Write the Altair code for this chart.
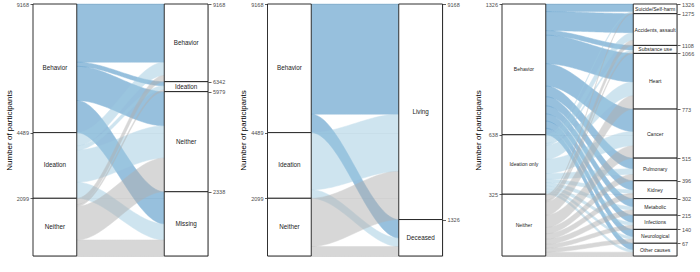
import altair as alt
import pandas as pd
import numpy as np

FONT = "Liberation Sans"
AXIS_TITLE = "Number of participants"

# Panel 1: Baseline -> Follow-up
P1_LEFT = ["Behavior", "Ideation", "Neither"]
P1_RIGHT = ["Behavior", "Ideation", "Neither", "Missing"]
P1_FROM_BEHAVIOR = [2118, 150, 1242, 1169]
P1_FROM_IDEATION = [481, 150, 1174, 585]
P1_FROM_NEITHER = [227, 63, 1225, 584]
P1_AXES = ["Baseline", "Follow-up"]

# Panel 2: Baseline -> Mortality
P2_LEFT = ["Behavior", "Ideation", "Neither"]
P2_RIGHT = ["Living", "Deceased"]
P2_FROM_BEHAVIOR = [4009, 670]
P2_FROM_IDEATION = [2080, 310]
P2_FROM_NEITHER = [1753, 346]
P2_AXES = ["Baseline", "Mortality"]

# Panel 3: C-SSRS (lifetime) -> Cause of death
P3_LEFT = ["Behavior", "Ideation only", "Neither"]
P3_RIGHT = ["Suicide/Self-harm", "Accidents, assault", "Substance use", "Heart",
            "Cancer", "Pulmonary", "Kidney", "Metabolic", "Infections",
            "Neurological", "Other causes"]
P3_FROM_BEHAVIOR = [40, 100, 24, 150, 118, 56, 48, 42, 38, 38, 34]
P3_FROM_IDEATION = [6, 40, 10, 73, 75, 30, 18, 18, 16, 14, 13]
P3_FROM_NEITHER = [5, 27, 8, 70, 65, 33, 28, 27, 21, 21, 20]
P3_AXES = ["C-SSRS (lifetime)", "Cause of death"]

GROUP_KEYS = ["behavior", "ideation", "neither"]
GROUP_COLORS = ["#3182bd", "#9ecae1", "#b0b0b0"]

N_PTS = 41


def panel(left, right, flows, axes, fs_left, fs_right):
    flows = np.array(flows, dtype=float)
    total = float(flows.sum())
    rows = flows.sum(1)
    cols = flows.sum(0)
    ltop = total - np.concatenate([[0], np.cumsum(rows)[:-1]])
    rtop = total - np.concatenate([[0], np.cumsum(cols)[:-1]])

    t = np.linspace(0, 1, N_PTS)
    s = t * t * (3 - 2 * t)
    recs = []
    for i in range(len(left)):
        loff = ltop[i]
        for j in range(len(right)):
            v = flows[i, j]
            l_hi = loff
            l_lo = loff - v
            loff -= v
            r_hi = rtop[j] - flows[:i, j].sum()
            r_lo = r_hi - v
            if v <= 0:
                continue
            for tt, ss in zip(t, s):
                recs.append(dict(fid=f"{i}-{j}", grp=GROUP_KEYS[i], x=1 + 2 * tt,
                                 lo=l_lo + (r_lo - l_lo) * ss,
                                 hi=l_hi + (r_hi - l_hi) * ss))
    fdf = pd.DataFrame(recs)

    lstr = pd.DataFrame(dict(x0=0.0, x1=1.0, lo=ltop - rows, hi=ltop, label=left,
                             xm=0.5, fs=fs_left))
    rstr = pd.DataFrame(dict(x0=3.0, x1=4.0, lo=rtop - cols, hi=rtop, label=right,
                             xm=3.5, fs=fs_right))
    for d in (lstr, rstr):
        d["ym"] = (d["lo"] + d["hi"]) / 2
    labels = pd.concat([lstr, rstr], ignore_index=True)

    xs = alt.Scale(domain=[0, 4], nice=False, zero=False)
    ys = alt.Scale(domain=[0, total], nice=False, zero=True)

    common_axis = dict(domain=False, tickColor="#333333", tickSize=3, tickWidth=0.8,
                       labelFontSize=5.5, labelColor="#4d4d4d", labelFont=FONT,
                       labelPadding=1.5, labelOverlap=False, labelFlush=False, format="d")
    left_axis = alt.Axis(values=[int(v) for v in ltop], orient="left", title=AXIS_TITLE,
                         grid=True, gridColor="#ebebeb", gridWidth=0.6,
                         titleFontSize=8, titleFontWeight="normal", titleColor="black",
                         titleFont=FONT, titlePadding=3, **common_axis)
    right_axis = alt.Axis(values=[int(v) for v in rtop], orient="right", title=None,
                          grid=False, **common_axis)
    x_axis = alt.Axis(values=[0.5, 3.5],
                      labelExpr=f"datum.value < 2 ? '{axes[0]}' : '{axes[1]}'",
                      title=None, grid=False, domain=False, tickColor="#666666",
                      tickSize=2.5, tickWidth=0.8, labelFontSize=6.3, labelColor="#4d4d4d",
                      labelFont=FONT, labelPadding=1.5)

    color_scale = alt.Scale(domain=GROUP_KEYS, range=GROUP_COLORS)
    flows_layer = alt.Chart(fdf).mark_area(opacity=0.5, strokeWidth=0.5).encode(
        x=alt.X("x:Q", scale=xs, axis=None),
        y=alt.Y("lo:Q", scale=ys, axis=None),
        y2="hi:Q",
        detail="fid:N",
        fill=alt.Fill("grp:N", scale=color_scale, legend=None),
        stroke=alt.Stroke("grp:N", scale=color_scale, legend=None),
    )
    rect_style = dict(fill="white", stroke="#1a1a1a", strokeWidth=0.9)
    left_layer = alt.Chart(lstr).mark_rect(**rect_style).encode(
        x=alt.X("x0:Q", scale=xs, axis=x_axis), x2="x1:Q",
        y=alt.Y("lo:Q", scale=ys, axis=left_axis), y2="hi:Q",
    )
    right_layer = alt.Chart(rstr).mark_rect(**rect_style).encode(
        x=alt.X("x0:Q", scale=xs, axis=None), x2="x1:Q",
        y=alt.Y("lo:Q", scale=ys, axis=right_axis), y2="hi:Q",
    )
    text_layer = alt.Chart(labels).mark_text(font=FONT, color="#1a1a1a").encode(
        x=alt.X("xm:Q", scale=xs, axis=None),
        y=alt.Y("ym:Q", scale=ys, axis=None),
        text="label:N",
        size=alt.Size("fs:Q", scale=None),
    )
    return alt.layer(flows_layer, left_layer, right_layer, text_layer).resolve_scale(
        y="independent").properties(width=175, height=252)


p1 = panel(P1_LEFT, P1_RIGHT, [P1_FROM_BEHAVIOR, P1_FROM_IDEATION, P1_FROM_NEITHER],
           P1_AXES, 6.3, 6.3)
p2 = panel(P2_LEFT, P2_RIGHT, [P2_FROM_BEHAVIOR, P2_FROM_IDEATION, P2_FROM_NEITHER],
           P2_AXES, 6.3, 6.3)
p3 = panel(P3_LEFT, P3_RIGHT, [P3_FROM_BEHAVIOR, P3_FROM_IDEATION, P3_FROM_NEITHER],
           P3_AXES, 5.1, 5.1)

chart = alt.hconcat(p1, p2, p3, spacing=59.5, bounds="flush").properties(
    padding={"left": 4, "top": 1, "right": 0, "bottom": 0}
).configure_view(stroke="#9a9a9a", strokeWidth=0.8).configure(background="white")

chart.save("out.html", embed_options={"renderer": "svg", "actions": False})
